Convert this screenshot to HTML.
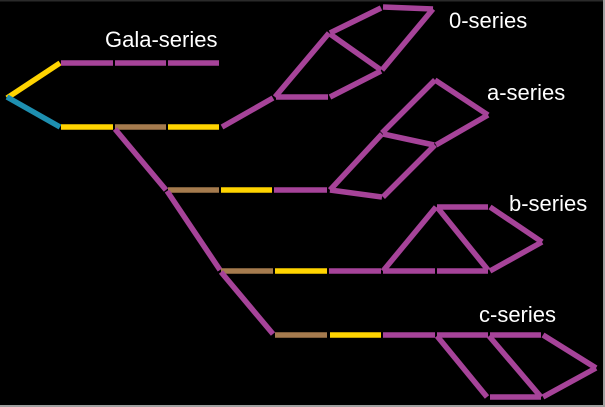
<!DOCTYPE html>
<html><head><meta charset="utf-8"><style>
html,body{margin:0;padding:0;background:#a0a0a0;}
body{width:605px;height:407px;overflow:hidden;}
svg{display:block}
text{font-family:"Liberation Sans",sans-serif;fill:#fff;font-size:22px}
</style></head><body>
<svg width="605" height="407" viewBox="0 0 605 407">
<rect x="0" y="0" width="603" height="405" fill="#000"/>
<rect x="0" y="0" width="603" height="1.5" fill="#2a2a2a"/>
<g stroke-width="5.5" stroke-linecap="butt" fill="none">
<line x1="7" y1="98" x2="60" y2="63" stroke="#ffd400"/>
<line x1="7" y1="97" x2="60" y2="127" stroke="#1e8fb0"/>
<g stroke="#a64399">
<line x1="61" y1="63" x2="113" y2="63"/><line x1="115" y1="63" x2="166" y2="63"/><line x1="168" y1="63" x2="219" y2="63"/>
</g>
<line x1="61" y1="127" x2="113" y2="127" stroke="#ffd400"/>
<line x1="115" y1="127" x2="166" y2="127" stroke="#a57b4e"/>
<line x1="168" y1="127" x2="219" y2="127" stroke="#ffd400"/>
<g stroke="#a64399">
<line x1="222" y1="127" x2="273" y2="98"/>
<line x1="276" y1="97" x2="328" y2="97"/>
<line x1="275" y1="97" x2="329" y2="33"/>
<line x1="330" y1="33" x2="381" y2="8"/>
<line x1="383" y1="7" x2="433" y2="9"/>
<line x1="433" y1="9" x2="382" y2="70"/>
<line x1="330" y1="34" x2="381" y2="70"/>
<line x1="381" y1="71" x2="330" y2="97"/>
<line x1="115" y1="129" x2="166" y2="190"/>
</g>
<line x1="168" y1="190" x2="219" y2="190" stroke="#a57b4e"/>
<line x1="221" y1="190" x2="272" y2="190" stroke="#ffd400"/>
<g stroke="#a64399">
<line x1="274" y1="190" x2="327" y2="190"/>
<line x1="330" y1="190" x2="382" y2="197"/>
<line x1="330" y1="190" x2="382" y2="134"/>
<line x1="383" y1="197" x2="435" y2="145"/>
<line x1="383" y1="134" x2="434" y2="145"/>
<line x1="382" y1="133" x2="435" y2="80"/>
<line x1="435" y1="80" x2="488" y2="115"/>
<line x1="488" y1="115" x2="436" y2="145"/>
<line x1="167" y1="191" x2="220" y2="270"/>
</g>
<line x1="221" y1="271" x2="273" y2="271" stroke="#a57b4e"/>
<line x1="275" y1="271" x2="327" y2="271" stroke="#ffd400"/>
<g stroke="#a64399">
<line x1="329" y1="271" x2="381" y2="271"/>
<line x1="383" y1="271" x2="435" y2="271"/>
<line x1="437" y1="271" x2="488" y2="271"/>
<line x1="383" y1="271" x2="436" y2="207"/>
<line x1="437" y1="207" x2="488" y2="270"/>
<line x1="437" y1="207" x2="488" y2="207"/>
<line x1="490" y1="207" x2="542" y2="242"/>
<line x1="542" y1="242" x2="490" y2="271"/>
<line x1="221" y1="272" x2="273" y2="334"/>
</g>
<line x1="275" y1="335" x2="327" y2="335" stroke="#a57b4e"/>
<line x1="330" y1="335" x2="381" y2="335" stroke="#ffd400"/>
<g stroke="#a64399">
<line x1="383" y1="335" x2="435" y2="335"/>
<line x1="437" y1="335" x2="488" y2="335"/>
<line x1="490" y1="335" x2="541" y2="335"/>
<line x1="437" y1="336" x2="487" y2="397"/>
<line x1="489" y1="336" x2="541" y2="397"/>
<line x1="490" y1="397" x2="541" y2="397"/>
<line x1="543" y1="335" x2="596" y2="368"/>
<line x1="596" y1="368" x2="543" y2="397"/>
</g>
</g>
<text x="105" y="47">Gala-series</text>
<text x="449" y="28">0-series</text>
<text x="487" y="100">a-series</text>
<text x="509" y="211">b-series</text>
<text x="479" y="322">c-series</text>
</svg>
</body></html>
